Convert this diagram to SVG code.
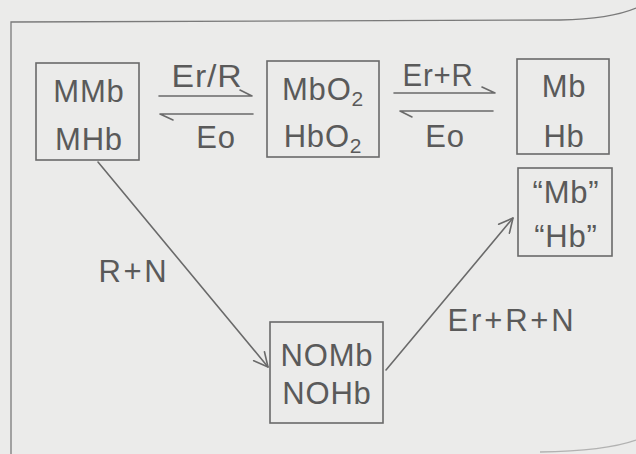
<svg xmlns="http://www.w3.org/2000/svg" width="636" height="454" viewBox="0 0 636 454">
<defs>
<style>
.bg{fill:#ebebea}
.frame{fill:none;stroke:#7a7a7a;stroke-width:1.3}
.box{fill:none;stroke:#6a6a6a;stroke-width:1.6}
.t{font-family:"Liberation Sans",Arial,sans-serif;font-size:31px;fill:#5a5a5a;text-anchor:middle;letter-spacing:0.8px}
.sub{font-size:21px}
.ln{fill:none;stroke:#6a6a6a;stroke-width:1.6;stroke-linecap:round;stroke-linejoin:round}
</style>
<marker id="ah" viewBox="0 0 16 16" refX="15" refY="8" markerWidth="16" markerHeight="16" markerUnits="userSpaceOnUse" orient="auto">
<path d="M1,1 L15,8 L1,15" fill="none" stroke="#6a6a6a" stroke-width="1.6" stroke-linecap="round" stroke-linejoin="round"/>
</marker>
</defs>
<rect class="bg" x="0" y="0" width="636" height="454"/>
<g id="frame">
<path class="frame" d="M11,454 L11,22 L560,20 Q610,19 636,8"/>
<path class="frame" d="M540,452 Q605,451 636,440" stroke-opacity="0.5"/>
</g>
<g id="node-mmb">
<rect class="box" x="36" y="63" width="103" height="97"/>
<text class="t" x="89" y="102">MMb</text>
<text class="t" x="89" y="150">MHb</text>
</g>
<g id="node-mbo2">
<rect class="box" x="267" y="61" width="112" height="96"/>
<text class="t" x="323" y="100">MbO<tspan class="sub" dy="6">2</tspan></text>
<text class="t" x="323" y="147">HbO<tspan class="sub" dy="6">2</tspan></text>
</g>
<g id="node-mb">
<rect class="box" x="517" y="59" width="92" height="95"/>
<text class="t" x="564" y="97">Mb</text>
<text class="t" x="564" y="147">Hb</text>
</g>
<g id="node-mb-quoted">
<rect class="box" x="518" y="168" width="94" height="88"/>
<text class="t" x="566" y="203">“Mb”</text>
<text class="t" x="566" y="247">“Hb”</text>
</g>
<g id="node-nomb">
<rect class="box" x="270" y="322" width="113" height="101"/>
<text class="t" x="327" y="366">NOMb</text>
<text class="t" x="327" y="404">NOHb</text>
</g>
<g id="connectors">
<path class="ln" d="M159,96 L252,96 L240,90"/>
<path class="ln" d="M253,114 L160,114 L173,120"/>
<path class="ln" d="M394,93 L495,93 L482,87"/>
<path class="ln" d="M493,111 L400,111 L412,117"/>
<path class="ln" d="M98,162 L268,367" marker-end="url(#ah)"/>
<path class="ln" d="M386,370 L513,218" marker-end="url(#ah)"/>
<text class="t" x="207" y="87" textLength="71" lengthAdjust="spacingAndGlyphs">Er/R</text>
<text class="t" x="216" y="148">Eo</text>
<text class="t" x="438" y="86" textLength="71" lengthAdjust="spacingAndGlyphs">Er+R</text>
<text class="t" x="445" y="147">Eo</text>
<text class="t" x="133" y="282" textLength="69" lengthAdjust="spacing">R+N</text>
<text class="t" x="511" y="331" textLength="127" lengthAdjust="spacing">Er+R+N</text>
</g>
</svg>
